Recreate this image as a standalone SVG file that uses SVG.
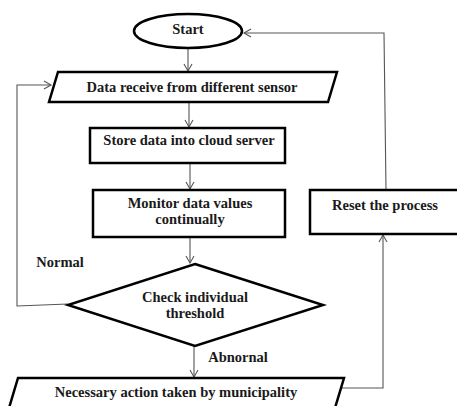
<svg xmlns="http://www.w3.org/2000/svg" width="457" height="406" viewBox="0 0 457 406">
<defs>
<marker id="arr" markerWidth="10" markerHeight="10" refX="8" refY="5" orient="auto" markerUnits="userSpaceOnUse">
<path d="M1,1 L8,5 L1,9" fill="none" stroke="#555" stroke-width="1.1"/>
</marker>
<style>
.shape{fill:#fff;stroke:#000;stroke-width:2.5}
.conn{fill:none;stroke:#555;stroke-width:1.1}
text{font-family:"Liberation Serif","Times New Roman",serif;font-weight:bold;font-size:14.5px;fill:#1a1a1a;text-anchor:middle}
</style>
</defs>
<rect width="457" height="406" fill="#fff"/>
<g id="connectors">
<path class="conn" d="M188,48 L188,71" marker-end="url(#arr)"/>
<path class="conn" d="M189,102 L189,127" marker-end="url(#arr)"/>
<path class="conn" d="M190,163 L190,189" marker-end="url(#arr)"/>
<path class="conn" d="M190,237 L190,263" marker-end="url(#arr)"/>
<path class="conn" d="M194,346 L194,377" marker-end="url(#arr)"/>
<path class="conn" d="M68,304 L17,306 L17,85 L51,85" marker-end="url(#arr)"/>
<path class="conn" d="M340,388 L383,388 L383,235" marker-end="url(#arr)"/>
<path class="conn" d="M386,190 L384,33 L244,33" marker-end="url(#arr)"/>
</g>
<g id="start">
<ellipse class="shape" cx="188" cy="31" rx="54" ry="17"/>
<text x="188" y="34">Start</text>
</g>
<g id="receive">
<polygon class="shape" points="58,72 337,72 328,102 49,102"/>
<text x="192" y="92">Data receive from different sensor</text>
</g>
<g id="store">
<rect class="shape" x="90" y="128" width="195" height="35"/>
<text x="189" y="145">Store data into cloud server</text>
</g>
<g id="monitor">
<rect class="shape" x="93" y="190" width="192" height="47"/>
<text x="190" y="208">Monitor data values</text>
<text x="190" y="224">continually</text>
</g>
<g id="check">
<polygon class="shape" points="195,264 323,305 195,346 68,305"/>
<text x="195" y="302">Check individual</text>
<text x="195" y="318">threshold</text>
</g>
<g id="action">
<polygon class="shape" points="18,378 344,378 335,408 9,408"/>
<text x="176" y="397">Necessary action taken by municipality</text>
</g>
<g id="reset">
<rect class="shape" x="310" y="190" width="160" height="44"/>
<text x="385" y="210">Reset the process</text>
</g>
<g id="labels">
<text x="60" y="267">Normal</text>
<text x="238" y="362">Abnornal</text>
</g>
</svg>
